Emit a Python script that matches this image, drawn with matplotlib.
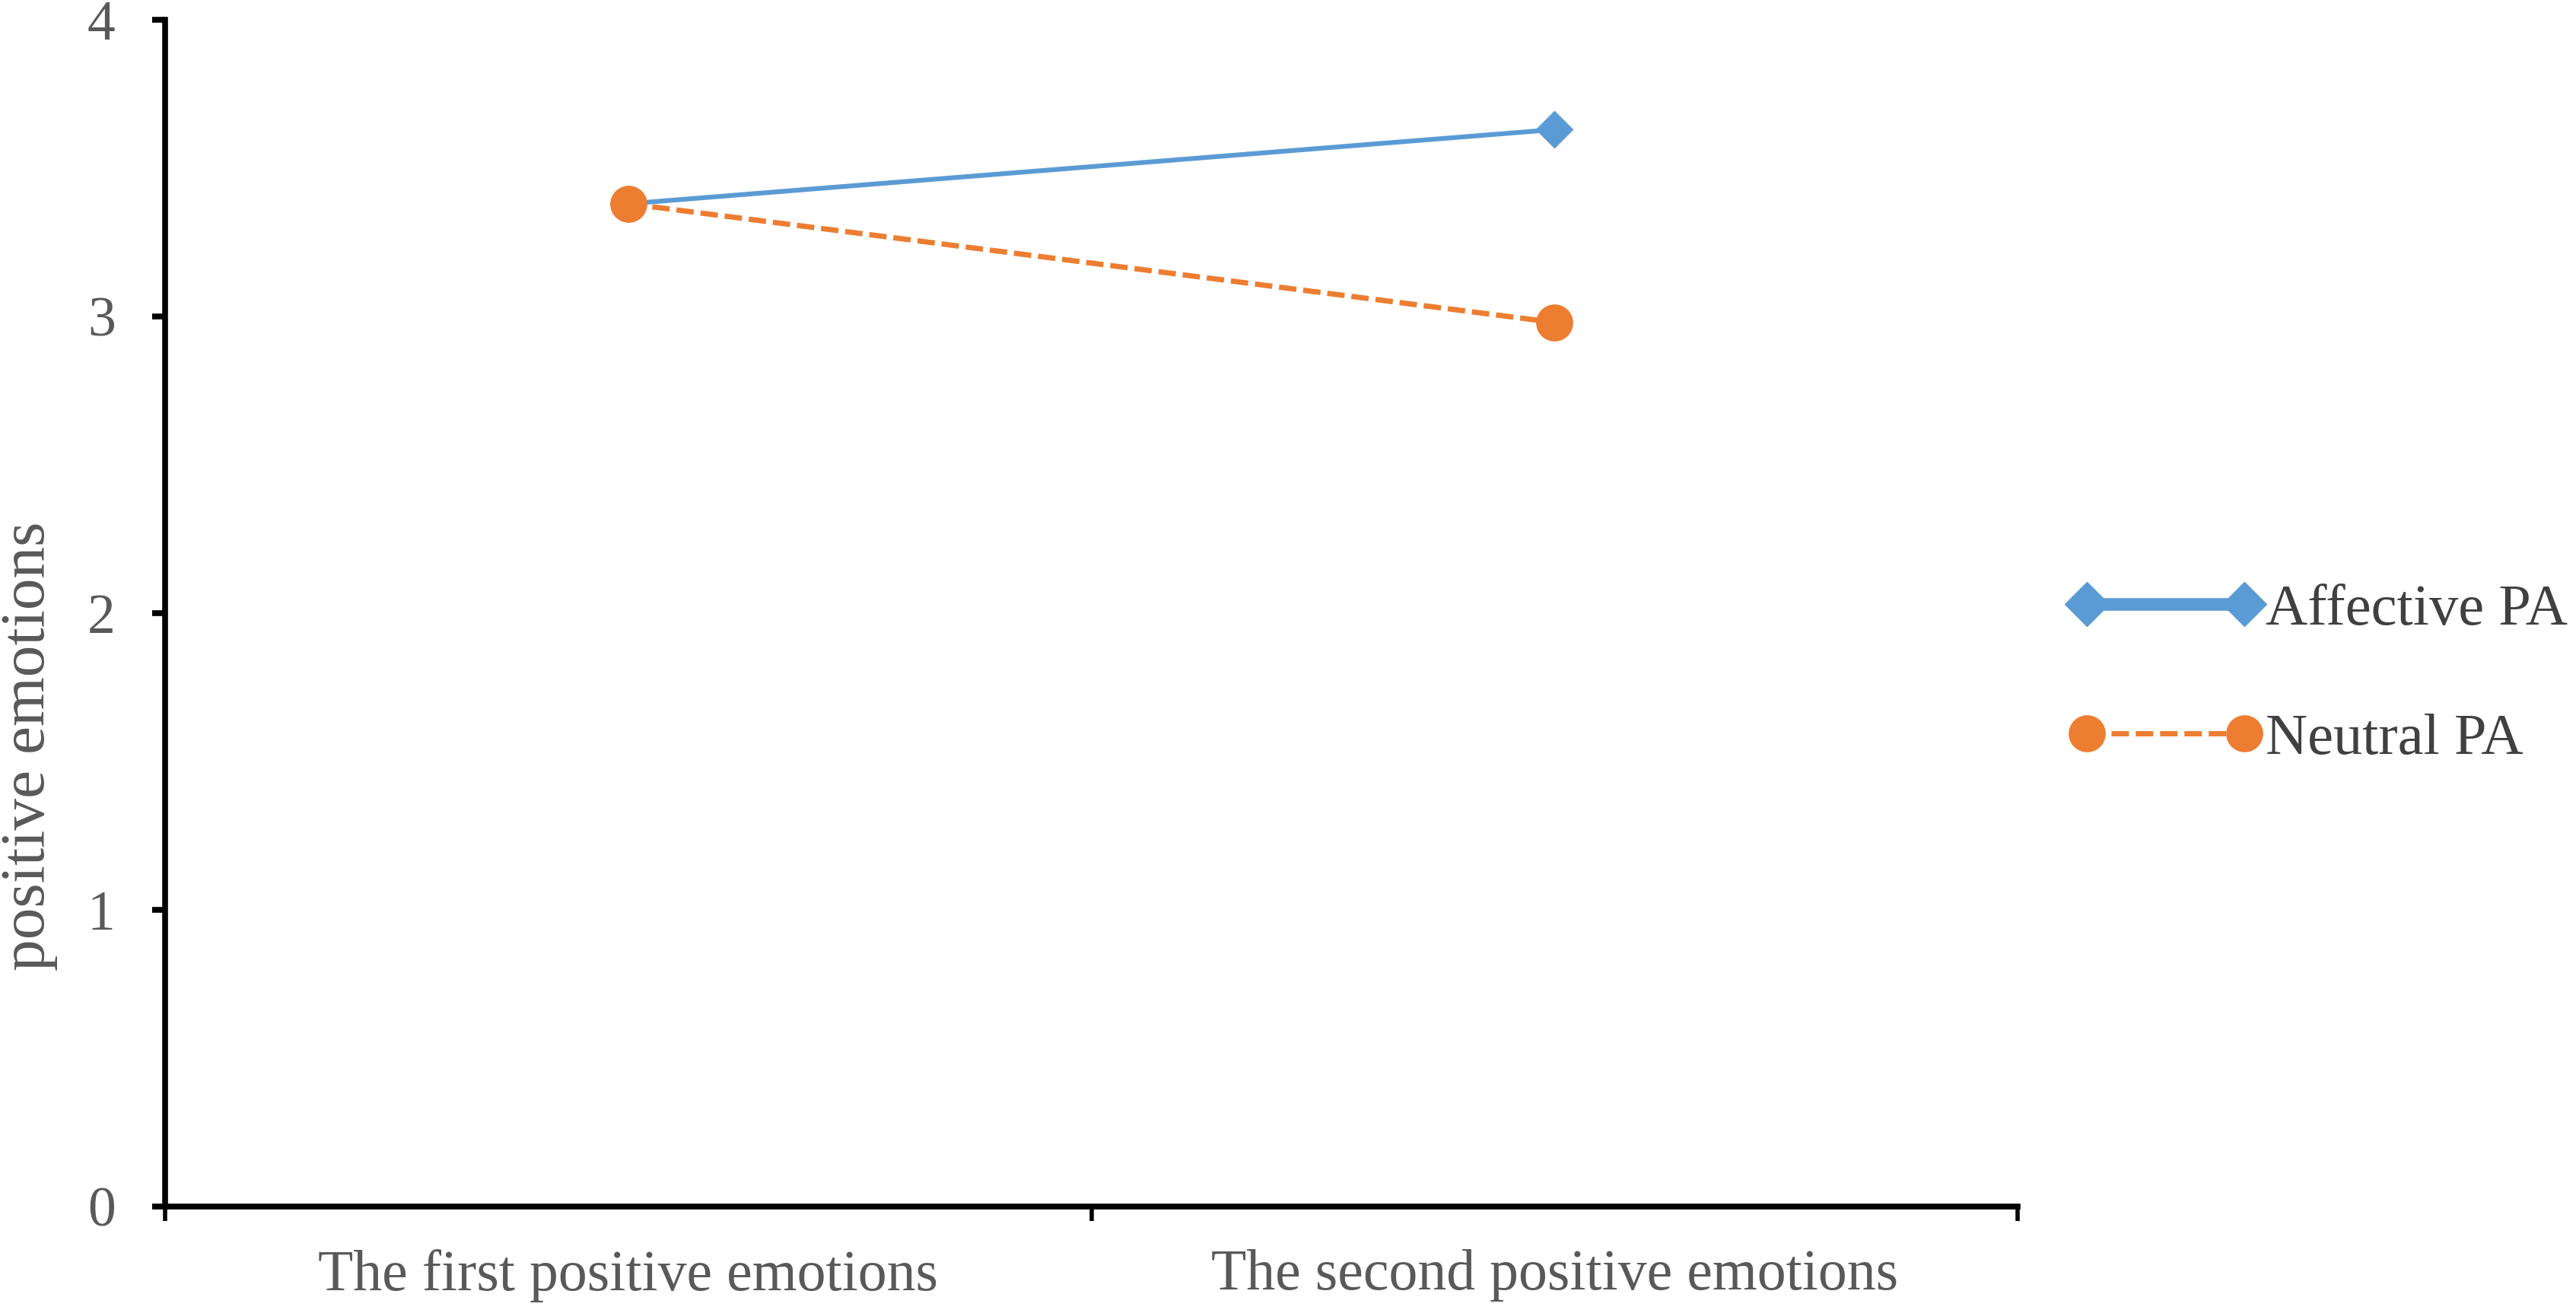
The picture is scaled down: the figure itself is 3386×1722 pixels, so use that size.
import matplotlib
matplotlib.use("Agg")
from matplotlib import pyplot as plt
from matplotlib.lines import Line2D
import numpy as np

# chart data
categories = ["The first positive emotions", "The second positive emotions"]
affective = [3.38, 3.63]
neutral = [3.38, 2.98]
series_names = ["Affective PA", "Neutral PA"]
y_ticks = [0, 1, 2, 3, 4]

blue = "#5B9BD5"
orange = "#ED7D31"

plt.rcParams["font.family"] = ["Liberation Serif", "DejaVu Serif"]

fig = plt.figure(figsize=(33.86, 17.22), dpi=100)
ax = fig.add_axes([217/3386, 136/1722, (2652-217)/3386, (1586-26)/1722])

x = np.arange(len(categories))

# lines + markers
ax.plot(x, affective, color=blue, lw=4.5, marker="D", markersize=24,
        solid_capstyle="butt", zorder=3)
ax.plot(x, neutral, color=orange, lw=5, linestyle=(0, (3.3, 1.3)),
        marker="o", markersize=34, zorder=4)

ax.set_xlim(-0.5, len(categories) - 0.5)
ax.set_ylim(0, 4)

# spines
for s in ["top", "right"]:
    ax.spines[s].set_visible(False)
for s in ["left", "bottom"]:
    ax.spines[s].set_linewidth(5.5)
    ax.spines[s].set_color("black")

# y ticks
ax.set_yticks(y_ticks)
ax.set_yticklabels([str(v) for v in y_ticks])
ax.tick_params(axis="y", direction="out", length=12, width=5.5,
               labelsize=53, labelcolor="#595959", pad=35)

# x ticks: labels at category centres, tick marks at category borders
ax.set_xticks(x)
ax.set_xticklabels(categories)
ax.set_xticks(np.arange(-0.5, len(categories)), minor=True)
ax.tick_params(axis="x", which="major", length=0, labelsize=54.5,
               labelcolor="#595959", pad=40)
ax.tick_params(axis="x", which="minor", direction="out", length=14, width=4)

ax.set_ylabel("positive emotions", fontsize=60, color="#595959")
ax.yaxis.set_label_coords(-0.058, 0.388)

# legend (handles drawn thicker like the original)
handles = [
    Line2D([], [], color=blue, lw=12, marker="D", markersize=30),
    Line2D([], [], color=orange, lw=5, linestyle=(0, (3.3, 1.3)),
           marker="o", markersize=34),
]
leg = fig.legend(handles, series_names, loc="center left",
                 bbox_to_anchor=(2720/3386, 1 - 887/1722),
                 frameon=False, fontsize=55, handlelength=3.31,
                 handletextpad=0.07, labelspacing=1.31, borderpad=0,
                 borderaxespad=0, numpoints=2)
for t in leg.get_texts():
    t.set_color("#404040")

plt.savefig("out.png", dpi=100)
